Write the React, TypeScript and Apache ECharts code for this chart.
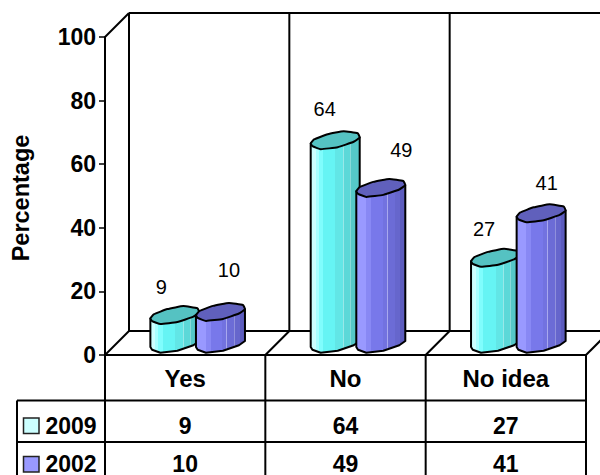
import React, { useEffect, useRef } from "react";
import * as echarts from "echarts";

const categories = ["Yes", "No", "No idea"];
const seriesNames = ["2009", "2002"];
const values2009 = [9, 64, 27];
const values2002 = [10, 49, 41];
const yTicks = [0, 20, 40, 60, 80, 100];

const FONT = '"Liberation Sans", Arial, sans-serif';
const INK = "#000";

// Plot frame in pixels; the back wall sits one depth step behind the front plane.
const GRID = { left: 105, right: 14, top: 37, bottom: 120 };
const DEPTH_X = 24;
const DEPTH_Y = 24;
const FLOOR_Y = 475 - GRID.bottom;
const FRONT_RIGHT = 600 - GRID.right;
const TABLE_ROW_1 = 400.5;
const TABLE_ROW_2 = 442;
const TABLE_BOTTOM = 475;
const TABLE_LEFT = 17;

// Cylinder geometry relative to the left end of its cap.
const CYL_DROP = 8;
const capOutline = [
  [0, 0], [3.3, -4], [17, -9.3], [33, -12.3], [47, -10.2], [49, -6],
  [43, -1.7], [27, 3.7], [10, 5.7], [1.7, 2.7],
];
const baseOutline = [[49, -6], [43, -1.7], [27, 3.7], [10, 5.7], [1.7, 2.7], [0, 0]];

const facetStops = (cols: [number, string][]) => {
  const stops: { offset: number; color: string }[] = [];
  cols.forEach(([end, color], i) => {
    const start = i === 0 ? 0 : cols[i - 1][0];
    stops.push({ offset: start, color }, { offset: end, color });
  });
  return stops;
};

const palettes = [
  {
    cap: "#55C2C2",
    swatch: "#CCFFFF",
    facets: facetStops([
      [0.1, "#CCFFFF"], [0.16, "#A8FFFF"], [0.25, "#80FDFD"], [0.5, "#66F4F4"],
      [0.66, "#62E6E6"], [0.68, "#98E8E8"], [0.8, "#5CD8D8"], [0.82, "#88DADA"], [1, "#55C8C8"],
    ]),
  },
  {
    cap: "#6060BC",
    swatch: "#9999FF",
    facets: facetStops([
      [0.2, "#9999FF"], [0.3, "#8888F4"], [0.54, "#7878EA"], [0.62, "#7272E0"],
      [0.64, "#A8A8EE"], [0.78, "#6C6CD6"], [0.8, "#9090DC"], [0.9, "#6666CC"], [1, "#5C5CBE"],
    ]),
  },
];

// Horizontal offset of each cylinder from its category centre.
const barOffsets = [-34.8, 10.8];
// Value labels stand clear of the caps; [dx from cap's left end, dy above it].
const labelNudges = [
  [[11, 31], [14, 34], [13, 32]],
  [[33, 45], [45, 41], [30, 34]],
];

const line = (x1: number, y1: number, x2: number, y2: number, lineWidth = 2, stroke = INK) => ({
  type: "line",
  shape: { x1, y1, x2, y2 },
  style: { stroke, lineWidth },
  silent: true,
});

// Back wall, floor and the table rules under the plot.
const renderFrame = () => {
  const backTop = GRID.top - DEPTH_Y;
  const backFloor = FLOOR_Y - DEPTH_Y;
  const band = (FRONT_RIGHT - GRID.left) / categories.length;
  const children: any[] = [
    line(GRID.left, GRID.top, GRID.left + DEPTH_X, backTop),
    line(GRID.left + DEPTH_X, backTop, 600, backTop),
    line(GRID.left + DEPTH_X, backFloor, 600, backFloor),
    line(TABLE_LEFT, TABLE_ROW_1, FRONT_RIGHT, TABLE_ROW_1),
    line(TABLE_LEFT, TABLE_ROW_2, FRONT_RIGHT, TABLE_ROW_2),
    line(TABLE_LEFT, TABLE_ROW_1, TABLE_LEFT, TABLE_BOTTOM),
  ];
  for (let i = 0; i <= categories.length; i++) {
    const x = GRID.left + band * i;
    children.push(line(x, FLOOR_Y, x + DEPTH_X, backFloor));
    children.push(line(x + DEPTH_X, backTop, x + DEPTH_X, backFloor));
    children.push(line(x, FLOOR_Y, x, TABLE_BOTTOM));
  }
  return { type: "group", children };
};

const makeCylinderRenderer = (seriesIndex: number, values: number[]) => (params: any, api: any) => {
  const i = params.dataIndex;
  const top = api.coord([api.value(0), api.value(1)]);
  const floor = api.coord([api.value(0), 0]);
  const x0 = top[0] + barOffsets[seriesIndex];
  const yTop = top[1] - CYL_DROP;
  const yBase = floor[1] - CYL_DROP;
  const pal = palettes[seriesIndex];
  const at = (p: number[], y: number) => [x0 + p[0], y + p[1]];
  const body = [at([0, 0], yTop), at([49, -6], yTop), ...baseOutline.map((p) => at(p, yBase))];
  const nudge = labelNudges[seriesIndex][i];
  return {
    type: "group",
    children: [
      {
        type: "polygon",
        shape: { points: body },
        style: {
          fill: { type: "linear", x: 0, y: 0, x2: 1, y2: 0, colorStops: pal.facets },
          stroke: INK,
          lineWidth: 2,
          lineJoin: "round",
        },
      },
      {
        type: "polygon",
        shape: { points: capOutline.map((p) => at(p, yTop)), smooth: 0.12 },
        style: { fill: pal.cap, stroke: INK, lineWidth: 2, lineJoin: "round" },
      },
      {
        type: "text",
        x: x0 + nudge[0],
        y: yTop - nudge[1],
        style: {
          text: String(values[i]),
          font: `20px ${FONT}`,
          fill: INK,
          align: "center",
          verticalAlign: "middle",
        },
      },
    ],
  };
};

// One row of the data table, centred under each category.
const makeTableRenderer = (rowY: number, values: number[]) => (params: any, api: any) => {
  const p = api.coord([api.value(0), 0]);
  return {
    type: "text",
    x: p[0],
    y: rowY,
    style: {
      text: String(values[params.dataIndex]),
      font: `bold 23px ${FONT}`,
      fill: INK,
      align: "center",
      verticalAlign: "middle",
    },
  };
};

const legendKey = (boxY: number, textY: number, index: number) => [
  {
    type: "rect",
    shape: { x: 23.5, y: boxY - 8, width: 15.5, height: 15.5 },
    style: { fill: palettes[index].swatch, stroke: "#222", lineWidth: 1.5 },
  },
  {
    type: "text",
    x: 45.5,
    y: textY,
    style: {
      text: seriesNames[index],
      font: `bold 23px ${FONT}`,
      fill: INK,
      verticalAlign: "middle",
    },
  },
];

const points = (vals: number[]) => vals.map((v, i) => [i, v]);
const ROW_2009 = 426;
const ROW_2002 = 463.5;

export default function App() {
  const ref = useRef<HTMLDivElement>(null);
  useEffect(() => {
    document.body.style.margin = "0";
    const chart = echarts.init(ref.current!, undefined, { renderer: "svg" });
    chart.setOption({
      animation: false,
      backgroundColor: "#fff",
      grid: { ...GRID },
      xAxis: {
        type: "category",
        data: categories,
        axisLine: { lineStyle: { color: INK, width: 2 } },
        axisTick: { show: false },
        axisLabel: {
          color: INK,
          fontFamily: FONT,
          fontWeight: "bold",
          fontSize: 24,
          margin: 11,
        },
      },
      yAxis: {
        type: "value",
        min: yTicks[0],
        max: yTicks[yTicks.length - 1],
        interval: 20,
        name: "Percentage",
        nameLocation: "middle",
        nameRotate: 90,
        nameGap: 72,
        nameTextStyle: {
          color: INK,
          fontFamily: FONT,
          fontWeight: "bold",
          fontSize: 23.5,
          padding: [0, 4, 0, 0],
        },
        splitLine: { show: false },
        axisLine: { show: true, lineStyle: { color: INK, width: 2 } },
        axisTick: { show: true, length: 6, lineStyle: { color: INK, width: 1.5 } },
        axisLabel: { color: INK, fontFamily: FONT, fontWeight: "bold", fontSize: 23, margin: 9 },
      },
      graphic: {
        elements: [
          ...legendKey(ROW_2009, ROW_2009, 0),
          ...legendKey(ROW_2002 + 1, ROW_2002, 1),
        ],
      },
      series: [
        {
          type: "custom",
          name: "frame",
          data: [[0, 0]],
          z: 1,
          renderItem: renderFrame,
          silent: true,
        },
        {
          type: "custom",
          name: seriesNames[0],
          data: points(values2009),
          z: 2,
          renderItem: makeCylinderRenderer(0, values2009),
        },
        {
          type: "custom",
          name: seriesNames[1],
          data: points(values2002),
          z: 3,
          renderItem: makeCylinderRenderer(1, values2002),
        },
        {
          type: "custom",
          name: "table 2009",
          data: points(values2009),
          z: 4,
          renderItem: makeTableRenderer(ROW_2009, values2009),
        },
        {
          type: "custom",
          name: "table 2002",
          data: points(values2002),
          z: 4,
          renderItem: makeTableRenderer(ROW_2002, values2002),
        },
      ],
    });
    return () => chart.dispose();
  }, []);
  return <div ref={ref} style={{ width: 600, height: 475 }} />;
}
